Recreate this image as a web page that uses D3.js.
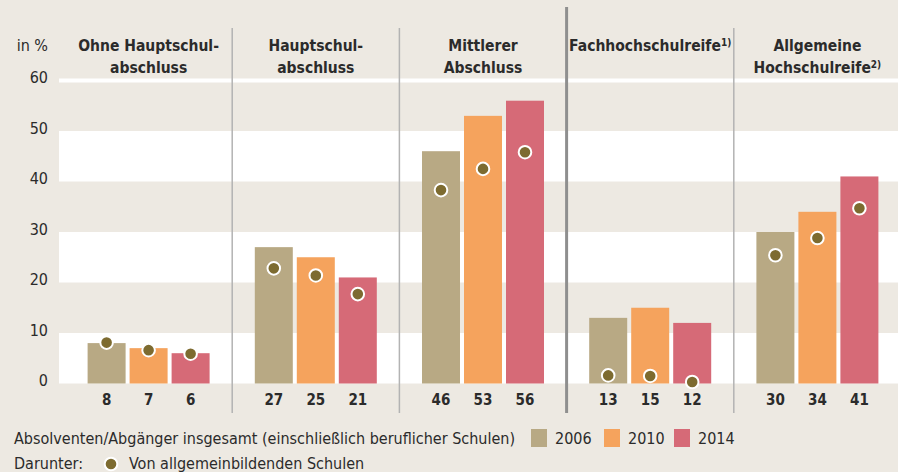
<!DOCTYPE html>
<html>
<head>
<meta charset="utf-8">
<script src="https://cdn.jsdelivr.net/npm/d3@7"></script>
<style>
  html, body { margin: 0; padding: 0; background: #EDE9E2; }
  svg { display: block; }
  text { font-family: "Liberation Sans Narrow", "DejaVu Sans Condensed", "Roboto", sans-serif; fill: #2b2b2b; }
</style>
</head>
<body>
<svg id="chart" width="898" height="472"></svg>
<script>
// ---- data ----
const categories = [
  ["Ohne Hauptschul-", "abschluss"],
  ["Hauptschul-", "abschluss"],
  ["Mittlerer", "Abschluss"],
  ["Fachhochschulreife", ""],
  ["Allgemeine", "Hochschulreife"]
];
const footnotes = ["", "", "", "1)", "2)"];
const years = ["2006", "2010", "2014"];
const total2006 = [8, 27, 46, 13, 30];
const total2010 = [7, 25, 53, 15, 34];
const total2014 = [6, 21, 56, 12, 41];
const general2006 = [8.1, 22.8, 38.3, 1.6, 25.4];
const general2010 = [6.6, 21.4, 42.5, 1.5, 28.8];
const general2014 = [5.9, 17.7, 45.8, 0.3, 34.7];
const yTicks = [0, 10, 20, 30, 40, 50, 60];
const legendText = "Absolventen/Abgänger insgesamt (einschließlich beruflicher Schulen)";
const dotLegendLabel = "Darunter:";
const dotLegendText = "Von allgemeinbildenden Schulen";
const unitLabel = "in %";

const colors = { "2006": "#B8A984", "2010": "#F5A35D", "2014": "#D66A77" };
const dotColor = "#7D6B30";
const bg = "#EDE9E2";

const totals = [total2006, total2010, total2014];
const generals = [general2006, general2010, general2014];

const W = 898, H = 472;
const svg = d3.select("#chart");
svg.append("rect").attr("width", W).attr("height", H).attr("fill", bg);

const plotLeft = 59;
const x = d3.scaleBand().domain(d3.range(categories.length)).range([65, 901]).paddingInner(0).paddingOuter(0);
const xi = d3.scaleBand().domain(years).range([-61, 61]).paddingInner(4 / 42).paddingOuter(0);
const y = d3.scaleLinear().domain([0, 60]).range([383.5, 80.5]);

// alternating white bands
const bands = [[0, 10], [20, 30], [40, 50]];
svg.append("g").selectAll("rect").data(bands).join("rect")
  .attr("x", plotLeft).attr("width", W - plotLeft)
  .attr("y", d => y(d[1])).attr("height", d => y(d[0]) - y(d[1]))
  .attr("fill", "#fff");
// white top line at 60
svg.append("rect").attr("x", plotLeft).attr("width", W - plotLeft)
  .attr("y", y(60) - 2).attr("height", 4).attr("fill", "#fff");

// y axis labels
const yAxis = d3.axisLeft(y).tickValues(yTicks).tickSize(0).tickPadding(0);
const ya = svg.append("g").attr("transform", "translate(48,-3)").call(yAxis);
ya.select(".domain").remove();
ya.selectAll("text").style("font-size", "16px").attr("fill", "#2b2b2b")
  .style("font-family", "\"Liberation Sans Narrow\", \"DejaVu Sans Condensed\", sans-serif");
svg.append("text").attr("x", 48).attr("y", 51).attr("text-anchor", "end")
  .style("font-size", "16px").text(unitLabel);

// separators
const seps = d3.range(1, categories.length).map(i => x(i));
svg.append("g").selectAll("line").data(seps).join("line")
  .attr("x1", d => d).attr("x2", d => d)
  .attr("y1", (d, i) => i === 2 ? 7 : 28).attr("y2", 413)
  .attr("stroke", (d, i) => i === 2 ? "#8f8f8f" : "#b3b3b3")
  .attr("stroke-width", (d, i) => i === 2 ? 3 : 1.5);

// bars
const groups = svg.append("g").selectAll("g").data(categories).join("g")
  .attr("transform", (d, i) => `translate(${x(i) + x.bandwidth() / 2},0)`);

years.forEach((yr, k) => {
  groups.append("rect")
    .attr("x", xi(yr)).attr("width", xi.bandwidth())
    .attr("y", (d, i) => y(totals[k][i]))
    .attr("height", (d, i) => y(0) - y(totals[k][i]))
    .attr("fill", colors[yr]);
});
years.forEach((yr, k) => {
  groups.append("circle")
    .attr("cx", xi(yr) + xi.bandwidth() / 2)
    .attr("cy", (d, i) => y(generals[k][i]))
    .attr("r", 6.3).attr("fill", dotColor)
    .attr("stroke", "#fff").attr("stroke-width", 2);
  groups.append("text")
    .attr("x", xi(yr) + xi.bandwidth() / 2)
    .attr("y", 405).attr("text-anchor", "middle")
    .style("font-size", "15px").style("font-weight", "bold")
    .text((d, i) => totals[k][i]);
});

// titles
groups.each(function (lines, i) {
  const g = d3.select(this);
  const t = g.append("text").attr("text-anchor", "middle")
    .style("font-size", "15.5px").style("font-weight", "bold");
  lines.forEach((ln, j) => {
    if (!ln) return;
    t.append("tspan").attr("x", 0).attr("y", 51 + j * 22).text(ln);
    if (footnotes[i] && j === lines.filter(Boolean).length - 1) {
      t.append("tspan").attr("dy", -5).style("font-size", "10px").text(footnotes[i]);
    }
  });
});

// legend
svg.append("text").attr("x", 14).attr("y", 444).style("font-size", "16px").text(legendText);
const lx = [531, 604, 674];
years.forEach((yr, k) => {
  svg.append("rect").attr("x", lx[k]).attr("y", 429).attr("width", 16).attr("height", 18).attr("fill", colors[yr]);
  svg.append("text").attr("x", lx[k] + 24).attr("y", 444).style("font-size", "16px").text(yr);
});
svg.append("text").attr("x", 14).attr("y", 469).style("font-size", "16px").text(dotLegendLabel);
svg.append("circle").attr("cx", 111).attr("cy", 464).attr("r", 6.3)
  .attr("fill", dotColor).attr("stroke", "#fff").attr("stroke-width", 2);
svg.append("text").attr("x", 129).attr("y", 469).style("font-size", "16px").text(dotLegendText);
</script>
</body>
</html>
